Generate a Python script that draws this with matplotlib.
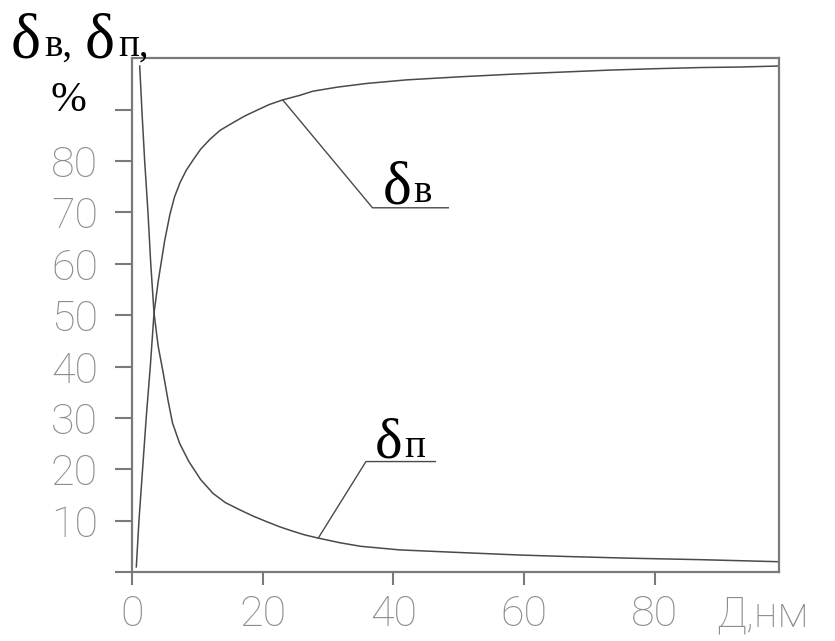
import matplotlib
matplotlib.use("Agg")
import matplotlib.pyplot as plt

# ---- data ----
dv_x = [0.66, 1.07, 1.63, 2.19, 2.8, 3.37, 4.0, 4.5, 5.0, 5.8, 6.5, 7.35, 8.3, 9.4, 10.5,
        11.9, 13.5, 15.5, 17.3, 19.3, 21.0, 23.06, 25.7, 27.7, 31.5, 35.9, 42.0, 50.2,
        58.0, 65.5, 73.0, 80.8, 87.0, 93.0, 99.0]
dv_y = [1.0, 10.1, 20.2, 30.3, 40.0, 50.4, 56.5, 60.5, 64.5, 69.6, 73.0, 75.8, 78.2, 80.3,
        82.3, 84.2, 86.0, 87.5, 88.8, 90.0, 91.0, 91.9, 92.8, 93.6, 94.4, 95.1, 95.8, 96.4,
        96.9, 97.3, 97.7, 98.0, 98.2, 98.3, 98.5]

dp_x = [1.18, 1.55, 1.94, 2.45, 2.86, 3.37, 4.0, 4.74, 5.5, 6.2, 7.3, 8.7, 10.5, 12.4,
        14.3, 16.5, 18.5, 20.6, 22.6, 24.7, 26.5, 28.5, 31.8, 35.0, 41.0, 50.0, 59.4, 67.0,
        75.7, 87.0, 99.0]
dp_y = [98.5, 89.0, 80.0, 69.9, 60.2, 50.4, 44.0, 39.0, 33.5, 29.0, 25.0, 21.5, 18.0, 15.3,
        13.5, 12.1, 10.9, 9.8, 8.8, 7.9, 7.2, 6.6, 5.7, 5.0, 4.3, 3.8, 3.3, 3.0,
        2.7, 2.4, 2.0]

x_ticks = [0, 20, 40, 60, 80]
x_ticklabels = ["0", "20", "40", "60", "80"]
y_ticks = [0, 10, 20, 30, 40, 50, 60, 70, 80, 90]
y_ticklabels = ["", "10", "20", "30", "40", "50", "60", "70", "80", ""]

# leader lines for curve labels (data coordinates)
lead_v_x = [23.06, 36.8, 48.4]
lead_v_y = [91.9, 70.9, 70.9]
lead_p_x = [28.5, 35.8, 46.4]
lead_p_y = [6.6, 21.5, 21.5]

W, H = 835, 641
fig = plt.figure(figsize=(W / 100, H / 100), dpi=100)
ax = fig.add_axes([132 / W, (H - 572) / H, 647 / W, (572 - 58.3) / H])

line_col = "#4a4a4a"
ax.plot(dv_x, dv_y, color=line_col, lw=1.1)
ax.plot(dp_x, dp_y, color=line_col, lw=1.1)
ax.plot(lead_v_x, lead_v_y, color=line_col, lw=1.0)
ax.plot(lead_p_x, lead_p_y, color=line_col, lw=1.0)

ax.set_xlim(0, 99.0)
ax.set_ylim(0, 100)

frame_col = "#7a7a7a"
for s in ax.spines.values():
    s.set_color(frame_col)
    s.set_linewidth(1.6)

tick_font = dict(family="Roboto", weight="light", size=31, color="#8c8c8c")
ax.set_xticks(x_ticks)
ax.set_xticklabels(x_ticklabels, **tick_font)
ax.set_yticks(y_ticks)
ax.set_yticklabels(y_ticklabels, **tick_font)
ax.tick_params(axis="x", direction="out", length=9.5, width=1.5, color=frame_col, pad=6)
ax.tick_params(axis="y", direction="out", length=12.5, width=1.5, color=frame_col, pad=12)

serif = "Liberation Serif"

def px(x, y):
    return x / W, (H - y) / H

# y-axis title: δв, δп,
fig.text(*px(11, 57), "δ", family=serif, size=46, color="black", va="baseline", ha="left")
fig.text(*px(44, 56), "в,", family=serif, size=28, color="black", va="baseline", ha="left")
fig.text(*px(85, 57), "δ", family=serif, size=46, color="black", va="baseline", ha="left")
fig.text(*px(118, 56), "п,", family=serif, size=28, color="black", va="baseline", ha="left")

# percent sign at the 90 tick
fig.text(*px(68, 101), "%", family=serif, size=31, color="black", va="center", ha="center")

# x-axis label
fig.text(*px(716, 626), "Д,нм", family="Roboto", weight="light", size=31,
         color="#8c8c8c", va="baseline", ha="left")

# curve labels
fig.text(*px(383, 203), "δ", family=serif, size=44, color="black", va="baseline", ha="left")
fig.text(*px(413, 202), "в", family=serif, size=28, color="black", va="baseline", ha="left")
fig.text(*px(375, 458), "δ", family=serif, size=42, color="black", va="baseline", ha="left")
fig.text(*px(404, 457), "п", family=serif, size=28, color="black", va="baseline", ha="left")

fig.savefig("out.png", dpi=100)
